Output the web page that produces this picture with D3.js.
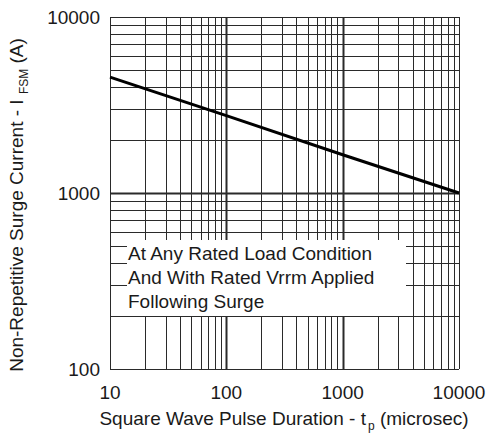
<!DOCTYPE html>
<html>
<head>
<meta charset="UTF-8">
<script src="https://d3js.org/d3.v7.min.js"></script>
<style>
  body { margin: 0; background: #fff; }
  svg { display: block; }
  text { font-family: "Liberation Sans", Arial, sans-serif; fill: #1a1a1a; }
</style>
</head>
<body>
<svg id="chart" width="489" height="439"></svg>
<script>
// data
const pulseWidth = [10, 100, 1000, 10000];          // microsec
const surgeCurrent = [4550, 2750, 1650, 1000];      // A
const xTicks = [10, 100, 1000, 10000];
const yTicks = [100, 1000, 10000];
const noteLines = ["At Any Rated Load Condition", "And With Rated Vrrm Applied", "Following Surge"];

const svg = d3.select("#chart");
const plotL = 110, plotR = 459, plotT = 17, plotB = 369;
const fs = 19;

const x = d3.scaleLog().domain([10, 10000]).range([plotL, plotR]);
const y = d3.scaleLog().domain([100, 10000]).range([plotB, plotT]);

// minor + major grid values
const xGrid = [], yGrid = [];
[10, 100, 1000].forEach(d => { for (let k = 1; k < 10; k++) xGrid.push(d * k); });
xGrid.push(10000);
[100, 1000].forEach(d => { for (let k = 1; k < 10; k++) yGrid.push(d * k); });
yGrid.push(10000);

const isMajor = v => Math.abs(Math.log10(v) - Math.round(Math.log10(v))) < 1e-9;
const grid = svg.append("g");

grid.selectAll("line.v").data(xGrid).enter().append("line")
  .attr("x1", d => Math.round(x(d)) + 0.5).attr("x2", d => Math.round(x(d)) + 0.5)
  .attr("y1", plotT).attr("y2", plotB)
  .attr("stroke", "#2a2a2a")
  .attr("stroke-width", d => (isMajor(d) && d !== 10 && d !== 10000) ? 2 : 1);

grid.selectAll("line.h").data(yGrid).enter().append("line")
  .attr("y1", d => Math.round(y(d)) + 0.5).attr("y2", d => Math.round(y(d)) + 0.5)
  .attr("x1", plotL).attr("x2", plotR)
  .attr("stroke", "#2a2a2a")
  .attr("stroke-width", d => (isMajor(d) && d !== 100 && d !== 10000) ? 2 : 1);

// white note box over the grid
svg.append("rect")
  .attr("x", 127).attr("y", 240).attr("width", 406 - 127).attr("height", 316 - 240)
  .attr("fill", "#fff");

svg.append("g").selectAll("text").data(noteLines).enter().append("text")
  .attr("x", 128).attr("y", (d, i) => 260 + i * 24)
  .attr("font-size", fs)
  .text(d => d);

// curve
const line = d3.line().x((d, i) => x(pulseWidth[i])).y(d => y(d));
svg.append("path")
  .datum(surgeCurrent)
  .attr("d", line)
  .attr("fill", "none")
  .attr("stroke", "#000")
  .attr("stroke-width", 3);

// tick labels
svg.append("g").selectAll("text").data(yTicks).enter().append("text")
  .attr("x", 100).attr("y", d => y(d) + 7)
  .attr("text-anchor", "end")
  .attr("font-size", fs)
  .text(d => d);

svg.append("g").selectAll("text").data(xTicks).enter().append("text")
  .attr("x", d => x(d)).attr("y", 399)
  .attr("text-anchor", "middle")
  .attr("font-size", fs)
  .text(d => d);

// axis titles
const xt = svg.append("text")
  .attr("x", 284).attr("y", 425)
  .attr("text-anchor", "middle")
  .attr("font-size", fs);
xt.append("tspan").text("Square Wave Pulse Duration - t");
xt.append("tspan").attr("font-size", 12).attr("dy", 5).attr("dx", 2).text("p");
xt.append("tspan").attr("dy", -5).text(" (microsec)");

const yt = svg.append("text")
  .attr("transform", "translate(23,205) rotate(-90)")
  .attr("text-anchor", "middle")
  .attr("font-size", fs);
yt.append("tspan").text("Non-Repetitive Surge Current - I ");
yt.append("tspan").attr("font-size", 12).attr("dy", 5).text("FSM");
yt.append("tspan").attr("dy", -5).text(" (A)");
</script>
</body>
</html>
